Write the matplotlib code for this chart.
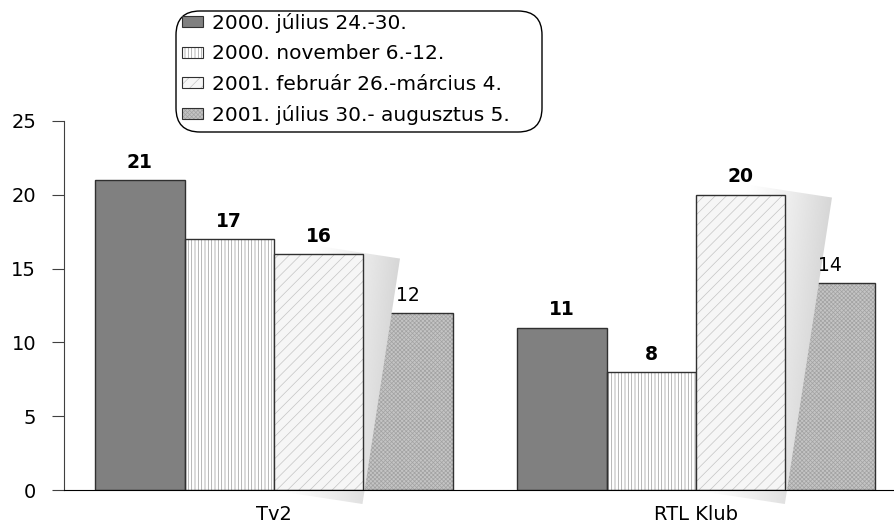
import matplotlib.pyplot as plt
import numpy as np
from matplotlib.patches import Patch, FancyBboxPatch
from matplotlib.transforms import Affine2D, IdentityTransform

plt.rcParams['font.family'] = ['DejaVu Sans']
plt.rcParams['hatch.linewidth'] = 0.5

# adatok
channels = ["Tv2", "RTL Klub"]
periods = ["2000. július 24.-30.", "2000. november 6.-12.",
           "2001. február 26.-március 4.", "2001. július 30.- augusztus 5."]
values = [
    [21, 11],
    [17, 8],
    [16, 20],
    [12, 14],
]
bold_labels = [True, True, True, False]

# kinézet
faces = ["#808080", "white", "#f6f6f6", "#c4c4c4"]
hatches = [None, "|||||", "///", "xxxxxxxx"]
hatch_cols = ["#808080", "#9a9a9a", "#c4c4c4", "#a2a2a2"]
zorders = [2, 2, 4, 2]

fig = plt.figure(figsize=(8.95, 5.24), dpi=100)
ax = fig.add_axes([64 / 895, 34 / 524, 831 / 895, 369 / 524])
ax.set_xlim(-0.4976, 1.4716)
ax.set_ylim(0, 25)

x = np.arange(len(channels))
w = 0.212
offs = [-1.5, -0.5, 0.5, 1.5]

for i in range(len(periods)):
    xs = x + offs[i] * w
    ax.bar(xs, values[i], w, color=faces[i], hatch=hatches[i],
           edgecolor=hatch_cols[i], linewidth=0, zorder=zorders[i])
    ax.bar(xs, values[i], w, color="none", edgecolor="#303030",
           linewidth=1.0, zorder=zorders[i] + 0.1)
    for xx, v in zip(xs, values[i]):
        ax.annotate(str(v), (xx, v), xytext=(0, 6), textcoords="offset points",
                    ha="center", va="bottom", fontsize=13.5,
                    fontweight="bold" if bold_labels[i] else "normal",
                    zorder=6)

# árnyék a harmadik oszlop mögött
tt = np.linspace(0.0, 1.0, 120)
ss = np.linspace(0.0, 1.0, 120)
T, S = np.meshgrid(tt, ss)
lum = 1 - 0.16 * T ** 1.3 * (0.75 + 0.25 * S)
for xx, v in zip(x + offs[2] * w, values[2]):
    x0 = xx - w / 2
    cx, cy = ax.transData.transform((x0, 0))
    tr = ax.transData + Affine2D().rotate_deg_around(cx, cy, -8.7)
    im = ax.imshow(lum, cmap="gray", vmin=0, vmax=1, origin="lower",
                   extent=(x0, x0 + w, 0, v * 1.05), aspect="auto",
                   transform=tr, zorder=3, interpolation="bilinear")
    im.set_clip_on(False)
ax.set_xlim(-0.4976, 1.4716)
ax.set_ylim(0, 25)

ax.spines["top"].set_visible(False)
ax.spines["right"].set_visible(False)
ax.spines["left"].set_color("#404040")
ax.spines["bottom"].set_color("black")
ax.spines["bottom"].set_zorder(7)
ax.set_yticks([0, 5, 10, 15, 20, 25])
ax.tick_params(axis="y", length=9, color="#404040", labelsize=14, pad=11)
ax.set_xticks(x)
ax.set_xticklabels(channels)
ax.tick_params(axis="x", length=0, labelsize=14, pad=11)

# jelmagyarázat kerettel
frame = FancyBboxPatch((176, 524 - 132), 366, 121,
                       boxstyle="round,pad=0,rounding_size=24",
                       transform=IdentityTransform(), facecolor="white",
                       edgecolor="black", linewidth=1.0, zorder=8)
fig.patches.append(frame)

handles = []
for i in range(len(periods)):
    fill = Patch(facecolor=faces[i], hatch=hatches[i], edgecolor=hatch_cols[i],
                 linewidth=0)
    edge = Patch(facecolor="none", edgecolor="#303030", linewidth=0.8)
    handles.append((fill, edge))
leg = fig.legend(handles, periods, loc="upper left",
                 bbox_to_anchor=(182 / 895, 1 - 13 / 524), fontsize=14.5,
                 frameon=False, handlelength=1.05, handleheight=0.45,
                 handletextpad=0.45, labelspacing=0.56, borderpad=0,
                 borderaxespad=0)
leg.set_zorder(9)

fig.savefig("out.png", dpi=100)
